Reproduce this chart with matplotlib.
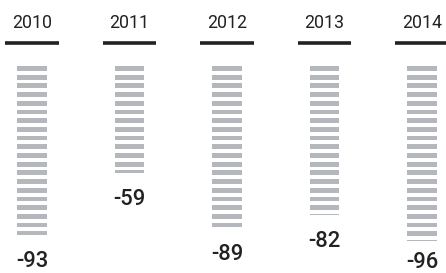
import matplotlib.pyplot as plt
import numpy as np

plt.rcParams["font.family"] = ["Roboto", "DejaVu Sans"]

# Data
years = ["2010", "2011", "2012", "2013", "2014"]
values = [-93, -59, -89, -82, -96]

# stripe layout (in value units)
pitch = 4.78
thick = 2.64
stripe_color = "#b4b8bd"
text_color = "#222222"

fig = plt.figure(figsize=(4.46, 2.73), dpi=100)
ax = fig.add_axes([0, 0, 1, 1])
ax.set_xlim(-0.328, 4.246)
ax.set_ylim(113.7, -36.3)
ax.axis("off")

for i, (yr, v) in enumerate(zip(years, values)):
    h = -v
    # striped bar
    n = int(np.ceil(h / pitch))
    for k in range(n):
        b = k * pitch
        ax.bar(i, min(thick, h - b), bottom=b, width=0.3,
               color=stripe_color, linewidth=0)
    # year label and rule
    ax.text(i, -20.7, yr, ha="center", va="baseline", fontsize=12.8,
            color=text_color)
    ax.plot([i - 0.272, i + 0.272], [-12.6, -12.6], color="#222222",
            lw=2.6, solid_capstyle="butt")
    # value label (kept inside the figure for the longest bars)
    ly = min(h + 17.6, 111.2)
    ax.text(i, ly, f"{v}", ha="center", va="baseline", fontsize=15.8,
            fontweight="medium", color=text_color)

plt.savefig("out.png", dpi=100)
